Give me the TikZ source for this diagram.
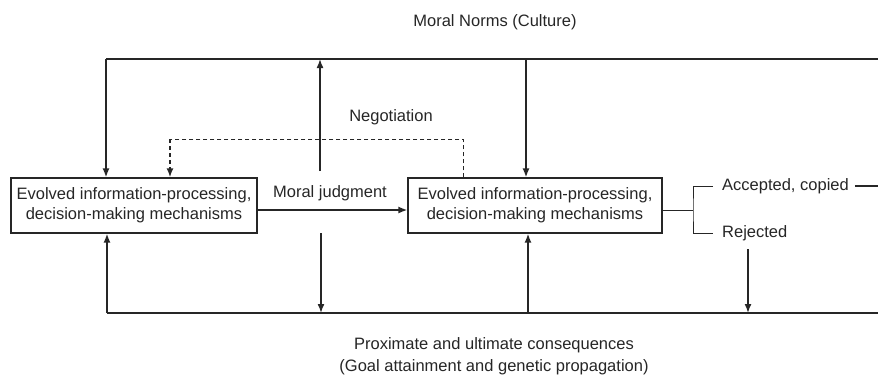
\documentclass[tikz,border=0pt]{standalone}
\usepackage{fontspec}
\setmainfont{Liberation Sans}
\usetikzlibrary{arrows.meta}
\definecolor{ink}{gray}{0.15}
\begin{document}
\begin{tikzpicture}[x=1pt,y=-1pt,color=ink,
  txt/.style={font=\fontsize{16.5}{20}\selectfont, inner sep=0pt, align=center, text=ink},
  box/.style={draw=ink, line width=1.2pt, txt, minimum height=55pt},
  flow/.style={line width=1.6pt, -{Latex[length=9pt,width=7pt]}},
  rail/.style={line width=1.5pt},
  thinline/.style={line width=1pt},
  neg/.style={dash pattern=on 4pt off 3pt, line width=1pt}]
\useasboundingbox (0,0) rectangle (878,376);

% the two decision-making boxes
\node[box, minimum width=246pt] (b1) at (134,205.5)
  {Evolved information-processing,\\decision-making mechanisms};
\node[box, minimum width=254pt] (b2) at (535,205.5)
  {Evolved information-processing,\\decision-making mechanisms};

% labels
\node[txt] (norms) at (495,22) {Moral Norms (Culture)};
\node[txt] (negot) at (391,117) {Negotiation};
\node[txt] (judg) at (330,193) {Moral judgment};
\node[txt, anchor=west] (acc) at (722,186) {Accepted, copied};
\node[txt, anchor=west] (rej) at (722,233) {Rejected};
\node[txt, font=\fontsize{16.5}{22}\selectfont] (cons) at (494,356)
  {Proximate and ultimate consequences\\(Goal attainment and genetic propagation)};

% rail of moral norms (top)
\coordinate (tl) at (106,59);
\coordinate (tr) at (878,59);
\coordinate (t2) at (526,59);
\coordinate (mjup) at (320,171);
\draw[rail] (tl) -- (tr);
\draw[flow] (tl) -- (tl |- b1.north);
\draw[flow] (t2) -- (t2 |- b2.north);
\draw[flow] (mjup) -- (mjup |- tl);

% rail of consequences (bottom)
\coordinate (bl) at (107,313);
\coordinate (brail) at (878,313);
\coordinate (u2) at (528,313);
\coordinate (mjdn) at (321,233);
\coordinate (rd) at (748,249);
\draw[rail] (bl) -- (brail);
\draw[flow] (bl) -- (bl |- b1.south);
\draw[flow] (u2) -- (u2 |- b2.south);
\draw[flow] (mjdn) -- (mjdn |- bl);
\draw[flow] (rd) -- (rd |- bl);

% moral judgment passed on
\draw[flow] ([yshift=-4.5pt]b1.east) -- ([yshift=-4.5pt]b2.west);

% negotiation loop
\coordinate (n1) at (463,139);
\coordinate (n2) at (170,139);
\draw[neg] (n1 |- b2.north) -- (n1) -- (n2);
\draw[neg, line width=1.8pt, -{Latex[length=9pt,width=7pt]}] (n2) -- (n2 |- b1.north);

% outcome bracket
\coordinate (brk) at (693,210);
\draw[thinline] ([yshift=-4.5pt]b2.east) -- (brk);
\draw[thinline] ([xshift=-9pt]acc.west) -| (brk) |- ([xshift=-9pt]rej.west);
\draw[rail] ([xshift=6pt]acc.east) -- (acc.east -| tr);
\end{tikzpicture}
\end{document}
